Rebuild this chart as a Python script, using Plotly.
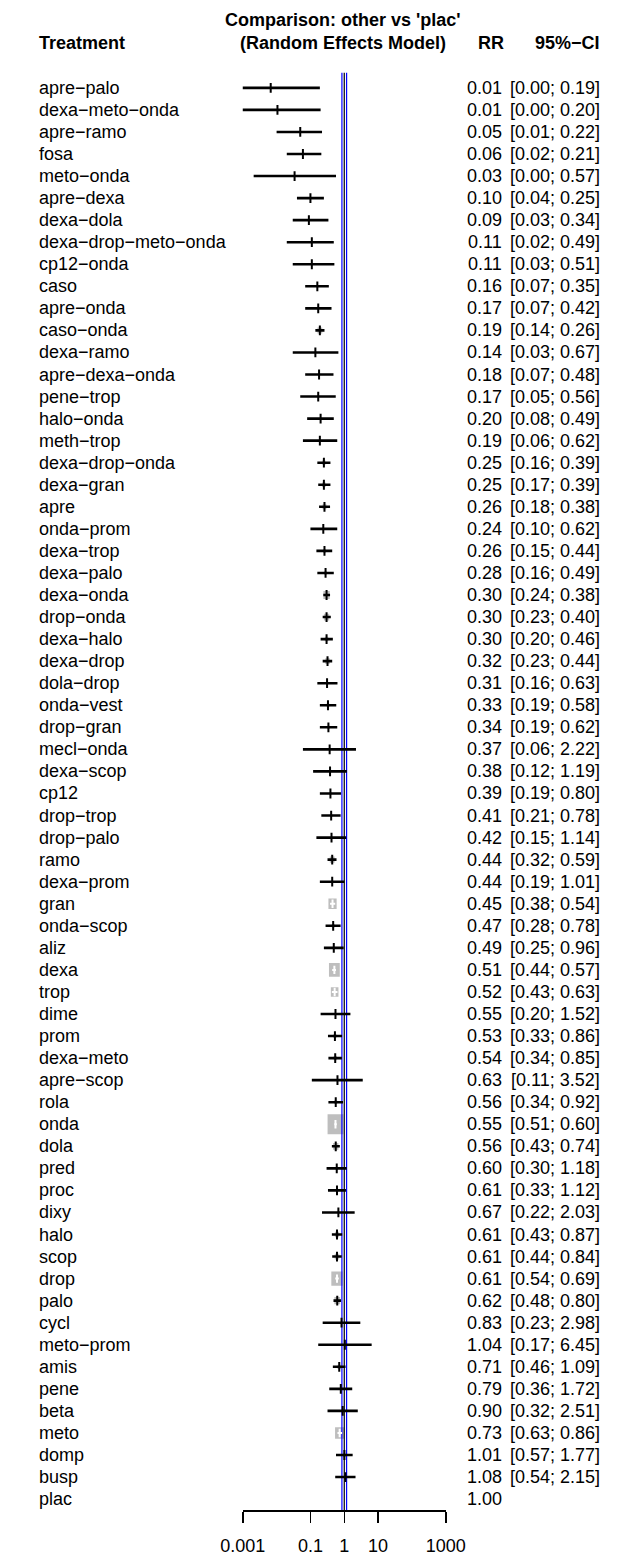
import numpy as np
import plotly.graph_objects as go

# ---------------- data ----------------
treatments = [
    "apre−palo", "dexa−meto−onda", "apre−ramo", "fosa", "meto−onda", "apre−dexa",
    "dexa−dola", "dexa−drop−meto−onda", "cp12−onda", "caso", "apre−onda", "caso−onda",
    "dexa−ramo", "apre−dexa−onda", "pene−trop", "halo−onda", "meth−trop", "dexa−drop−onda",
    "dexa−gran", "apre", "onda−prom", "dexa−trop", "dexa−palo", "dexa−onda", "drop−onda",
    "dexa−halo", "dexa−drop", "dola−drop", "onda−vest", "drop−gran", "mecl−onda",
    "dexa−scop", "cp12", "drop−trop", "drop−palo", "ramo", "dexa−prom", "gran",
    "onda−scop", "aliz", "dexa", "trop", "dime", "prom", "dexa−meto", "apre−scop", "rola",
    "onda", "dola", "pred", "proc", "dixy", "halo", "scop", "drop", "palo", "cycl",
    "meto−prom", "amis", "pene", "beta", "meto", "domp", "busp", "plac",
]
rr = [
    0.0067, 0.0106, 0.05, 0.06, 0.034, 0.10, 0.09, 0.11, 0.11, 0.16, 0.17, 0.19,
    0.14, 0.18, 0.17, 0.20, 0.19, 0.25, 0.25, 0.26, 0.24, 0.26, 0.28, 0.30, 0.30,
    0.30, 0.32, 0.31, 0.33, 0.34, 0.37, 0.38, 0.39, 0.41, 0.42, 0.44, 0.44, 0.45,
    0.47, 0.49, 0.51, 0.52, 0.55, 0.53, 0.54, 0.63, 0.56, 0.55, 0.56, 0.60, 0.61,
    0.67, 0.61, 0.61, 0.61, 0.62, 0.83, 1.04, 0.71, 0.79, 0.90, 0.73, 1.01, 1.08, 1.00,
]
lower = [
    0.00023, 0.00055, 0.01, 0.02, 0.0021, 0.04, 0.03, 0.02, 0.03, 0.07, 0.07, 0.14,
    0.03, 0.07, 0.05, 0.08, 0.06, 0.16, 0.17, 0.18, 0.10, 0.15, 0.16, 0.24, 0.23,
    0.20, 0.23, 0.16, 0.19, 0.19, 0.06, 0.12, 0.19, 0.21, 0.15, 0.32, 0.19, 0.38,
    0.28, 0.25, 0.44, 0.43, 0.20, 0.33, 0.34, 0.11, 0.34, 0.51, 0.43, 0.30, 0.33,
    0.22, 0.43, 0.44, 0.54, 0.48, 0.23, 0.17, 0.46, 0.36, 0.32, 0.63, 0.57, 0.54, None,
]
upper = [
    0.19, 0.20, 0.22, 0.21, 0.57, 0.25, 0.34, 0.49, 0.51, 0.35, 0.42, 0.26,
    0.67, 0.48, 0.56, 0.49, 0.62, 0.39, 0.39, 0.38, 0.62, 0.44, 0.49, 0.38, 0.40,
    0.46, 0.44, 0.63, 0.58, 0.62, 2.22, 1.19, 0.80, 0.78, 1.14, 0.59, 1.01, 0.54,
    0.78, 0.96, 0.57, 0.63, 1.52, 0.86, 0.85, 3.52, 0.92, 0.60, 0.74, 1.18, 1.12,
    2.03, 0.87, 0.84, 0.69, 0.80, 2.98, 6.45, 1.09, 1.72, 2.51, 0.86, 1.77, 2.15, None,
]
null_value = 1.0
tau2 = 0.0006          # between-study variance used for random-effects weights
blue_lines = [0.853, 1.172]
tick_vals = [0.001, 0.1, 1, 10, 1000]
tick_text = ["0.001", "0.1", "1", "10", "1000"]

# ---------------- layout constants (pixels) ----------------
W, H = 625, 1556
ROW0, STEP = 88.0, 22.094
AX_L, AX_R, AX_Y = 236.0, 454.0, 1513.0
FONT = "Liberation Sans, Arial, Helvetica, sans-serif"
FS = 18
BOX_MAX = 20.0        # tallest square (px)
BOX_ASPECT = 0.85     # width / height of squares as drawn
PX_PER_DEC = (AX_R - AX_L) / 6.0

n = len(treatments)
yrows = list(range(n))


def py(p):  # pixel y -> row units
    return (p - ROW0) / STEP


# random-effects weights from CI (log scale)
has_ci = [lo is not None for lo in lower]
se = [((np.log(u) - np.log(l)) / (2 * 1.959964)) if h else None
      for l, u, h in zip(lower, upper, has_ci)]
w = [1 / (s ** 2 + tau2) if s else 0 for s in se]
wmax = max(w)
side = [BOX_MAX * np.sqrt(wi / wmax) for wi in w]

fig = go.Figure()

# squares (grey boxes sized by weight)
bx, by = [], []
for i in yrows:
    if not has_ci[i]:
        continue
    hw = (side[i] * BOX_ASPECT / 2) / PX_PER_DEC
    hh = (side[i] / 2) / STEP
    x0, x1 = rr[i] * 10 ** (-hw), rr[i] * 10 ** hw
    bx += [x0, x1, x1, x0, x0, None]
    by += [i - hh, i - hh, i + hh, i + hh, i - hh, None]
fig.add_trace(go.Scatter(x=bx, y=by, mode="lines", fill="toself",
                         fillcolor="#BEBEBE", line=dict(width=0, color="#BEBEBE"),
                         hoverinfo="skip", showlegend=False))

# reference lines
top, bottom = py(73), n - 0.5
for v in blue_lines:
    fig.add_trace(go.Scatter(x=[v, v], y=[top, bottom], mode="lines",
                             line=dict(color="#0000FF", width=1.2),
                             hoverinfo="skip", showlegend=False))
fig.add_trace(go.Scatter(x=[null_value, null_value], y=[top, bottom], mode="lines",
                         line=dict(color="black", width=1.2),
                         hoverinfo="skip", showlegend=False))


# CI lines: white when inside square
def inside(i):
    c = np.log10(rr[i]) * PX_PER_DEC
    half = side[i] * BOX_ASPECT / 2
    return (np.log10(lower[i]) * PX_PER_DEC >= c - half) and \
           (np.log10(upper[i]) * PX_PER_DEC <= c + half)


for color, flag in (("black", False), ("white", True)):
    xs, ys, tx, ty = [], [], [], []
    for i in yrows:
        if not has_ci[i] or inside(i) != flag:
            continue
        xs += [lower[i], upper[i], None]
        ys += [i, i, None]
        tx.append(rr[i])
        ty.append(i)
    fig.add_trace(go.Scatter(x=xs, y=ys, mode="lines",
                             line=dict(color=color, width=2.6 if not flag else 2.0),
                             hoverinfo="skip", showlegend=False))
    fig.add_trace(go.Scatter(x=tx, y=ty, mode="markers",
                             marker=dict(symbol="line-ns", size=7 if not flag else 6,
                                         line=dict(color=color, width=2)),
                             hoverinfo="skip", showlegend=False))

# text columns
ann = []


def txt(x, y, s, anchor, bold=False, yref="y", size=FS):
    ann.append(dict(x=x / W, xref="paper", y=y, yref=yref,
                    text=f"<b>{s}</b>" if bold else s,
                    xanchor=anchor, yanchor="middle", showarrow=False,
                    font=dict(family=FONT, size=size, color="black")))


for i in yrows:
    txt(15, i, treatments[i], "left")
    txt(517, i, f"{rr[i]:.2f}", "right")
    if has_ci[i]:
        txt(622, i, f"[{lower[i]:.2f}; {upper[i]:.2f}]", "right")

txt(15, py(43), "Treatment", "left", bold=True)
txt(519, py(43), "RR", "right", bold=True)
txt(622, py(43), "95%−CI", "right", bold=True)
txt(344, py(20), "Comparison: other vs 'plac'", "center", bold=True)
txt(344, py(43), "(Random Effects Model)", "center", bold=True)

fig.update_layout(
    width=W, height=H, margin=dict(l=0, r=0, t=0, b=0),
    paper_bgcolor="white", plot_bgcolor="white",
    annotations=ann, showlegend=False,
    font=dict(family=FONT, size=FS, color="black"),
    xaxis=dict(type="log", domain=[AX_L / W, AX_R / W], range=[-3, 3],
               anchor="free", position=1 - AX_Y / H,
               showline=True, linecolor="black", linewidth=1.5,
               ticks="outside", ticklen=11, tickwidth=1.5, tickcolor="black",
               tickvals=tick_vals, ticktext=tick_text, ticklabelstandoff=8,
               tickfont=dict(family=FONT, size=FS, color="black"),
               showgrid=False, zeroline=False, fixedrange=True),
    yaxis=dict(domain=[0, 1], range=[py(H), py(0)], visible=False,
               showgrid=False, zeroline=False, fixedrange=True),
)

fig.write_html(
    "out.html",
    config={"displayModeBar": False, "staticPlot": True},
    post_script="document.body.style.margin='0px';document.body.style.overflow='hidden';",
)
